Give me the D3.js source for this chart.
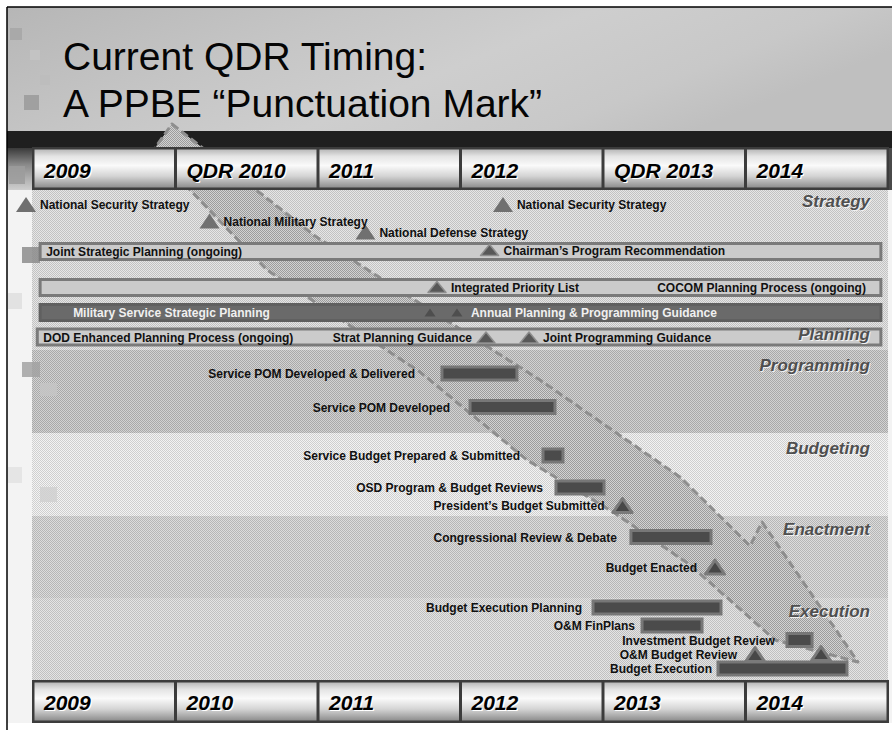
<!DOCTYPE html>
<html><head><meta charset="utf-8">
<script src="https://cdn.jsdelivr.net/npm/d3@7"></script>
<style>html,body{margin:0;padding:0;background:#fff;}svg{display:block;}</style>
</head><body>
<svg id="c" width="892" height="730"></svg>
<script>
// ---------------- DATA ----------------
const years = [2009, 2010, 2011, 2012, 2013, 2014];
const topYearLabels = ["2009", "QDR 2010", "2011", "2012", "QDR 2013", "2014"];
const bottomYearLabels = ["2009", "2010", "2011", "2012", "2013", "2014"];
const titleLines = ["Current QDR Timing:", "A PPBE \u201cPunctuation Mark\u201d"];

// background phase bands (y in chart rows)
const phaseBands = [
  { name: "Strategy & Planning", y0: 19.0, y1: 35.0, tone: "bgA" },
  { name: "Programming", y0: 35.0, y1: 43.3, tone: "bgB" },
  { name: "Budgeting", y0: 43.3, y1: 51.6, tone: "bgC" },
  { name: "Enactment", y0: 51.6, y1: 59.8, tone: "bgD" },
  { name: "Execution", y0: 59.8, y1: 68.1, tone: "bgE" }
];
const phaseLabels = ["Strategy", "Planning", "Programming", "Budgeting", "Enactment", "Execution"];
const phaseLabelRows = [20.7, 34.0, 37.1, 45.4, 53.5, 61.7];

// ongoing processes (full-width bars)
const ongoingBars = [
  { label: "Joint Strategic Planning (ongoing)", t0: 2009.05, t1: 2014.95, row: 25.15, tone: "light", side: "start" },
  { label: "COCOM Planning Process (ongoing)", t0: 2009.05, t1: 2014.95, row: 28.75, tone: "light", side: "end" },
  { label: "Military Service Strategic Planning", t0: 2009.05, t1: 2014.95, row: 31.25, tone: "dark", side: "start" },
  { label: "DOD Enhanced Planning Process (ongoing)", t0: 2009.03, t1: 2014.95, row: 33.7, tone: "light", side: "start" }
];

// milestones (triangles)
const milestones = [
  { label: "National Security Strategy", t: 2008.951, row: 20.45, kind: "plain", side: "right" },
  { label: "National Military Strategy", t: 2010.239, row: 22.1, kind: "plain", side: "right" },
  { label: "National Defense Strategy", t: 2011.333, row: 23.2, kind: "plain", side: "right" },
  { label: "National Security Strategy", t: 2012.298, row: 20.45, kind: "plain", side: "right" },
  { label: "Chairman\u2019s Program Recommendation", t: 2012.204, row: 25.0, kind: "inbar", side: "right" },
  { label: "Integrated Priority List", t: 2011.835, row: 28.7, kind: "inbar", side: "right" },
  { label: "", t: 2011.786, row: 31.25, kind: "small", side: "right" },
  { label: "Annual Planning & Programming Guidance", t: 2011.975, row: 31.25, kind: "small", side: "right" },
  { label: "Strat Planning Guidance", t: 2012.179, row: 33.75, kind: "inbar", side: "left" },
  { label: "Joint Programming Guidance", t: 2012.481, row: 33.75, kind: "inbar", side: "right" },
  { label: "President\u2019s Budget Submitted", t: 2013.137, row: 50.55, kind: "big", side: "left" },
  { label: "Budget Enacted", t: 2013.786, row: 56.7, kind: "big", side: "left" },
  { label: "O&M Budget Review", t: 2014.067, row: 65.45, kind: "big", side: "left" },
  { label: "", t: 2014.53, row: 65.35, kind: "big", side: "left" }
];

// activity bars
const activities = [
  { label: "Service POM Developed & Delivered", t0: 2011.870, t1: 2012.396, row: 37.35 },
  { label: "Service POM Developed", t0: 2012.067, t1: 2012.663, row: 40.7 },
  { label: "Service Budget Prepared & Submitted", t0: 2012.579, t1: 2012.719, row: 45.55 },
  { label: "OSD Program & Budget Reviews", t0: 2012.670, t1: 2013.007, row: 48.75 },
  { label: "Congressional Review & Debate", t0: 2013.196, t1: 2013.758, row: 53.7 },
  { label: "Budget Execution Planning", t0: 2012.930, t1: 2013.828, row: 60.75 },
  { label: "O&M FinPlans", t0: 2013.274, t1: 2013.695, row: 62.55 },
  { label: "Investment Budget Review", t0: 2014.291, t1: 2014.467, row: 64.0 },
  { label: "Budget Execution", t0: 2013.807, t1: 2014.712, row: 66.85 }
];
// gap (px) between each activity label and its bar
const activityLabelGap = [27, 20, 23, 13, 14, 11, 7, 12, 6];

// the big "punctuation" arrow outline [year, row]
const arrowOutline = [
  [2009.975, 12.4], [2010.979, 23.6], [2012.193, 34.7], [2012.558, 38.0],
  [2013.540, 47.7], [2014.032, 54.6], [2014.116, 52.2], [2014.789, 66.2],
  [2014.207, 64.0], [2013.611, 56.5], [2013.070, 51.2], [2012.467, 46.0],
  [2011.716, 37.2], [2011.449, 34.7], [2010.642, 27.0], [2010.102, 19.0],
  [2009.856, 14.8]
];

// ---------------- DRAW ----------------
const W = 892, H = 730;
const svg = d3.select("#c");
const x = d3.scaleLinear().domain([2009, 2015]).range([33, 888]);
const y = d3.scaleLinear().domain([0, 73]).range([0, 730]);
const FONT = "'Liberation Sans', Arial, Helvetica, sans-serif";

const defs = svg.append("defs");
function checker(id, c1, c2) {
  const p = defs.append("pattern").attr("id", id).attr("patternUnits", "userSpaceOnUse")
    .attr("width", 2).attr("height", 2);
  p.append("rect").attr("width", 2).attr("height", 2).attr("fill", c2);
  p.append("rect").attr("x", 0).attr("y", 0).attr("width", 1).attr("height", 1).attr("fill", c1);
  p.append("rect").attr("x", 1).attr("y", 1).attr("width", 1).attr("height", 1).attr("fill", c1);
}
checker("bgA", "#c2c2c2", "#e6e6e6");
checker("bgB", "#a9a9a9", "#d2d2d2");
checker("bgC", "#cfcfcf", "#f3f3f3");
checker("bgD", "#b6b6b6", "#dcdcdc");
checker("bgE", "#c0c0c0", "#e4e4e4");
checker("arrowPat", "#9c9c9c", "#d2d2d2");

const tg = defs.append("linearGradient").attr("id", "titleGrad").attr("x1", 0).attr("y1", 0).attr("x2", 1).attr("y2", 0.35);
[[0, "#b6b6b6"], [0.35, "#c5c5c5"], [0.6, "#cecece"], [0.85, "#c8c8c8"], [1, "#bfbfbf"]]
  .forEach(s => tg.append("stop").attr("offset", s[0]).attr("stop-color", s[1]));
const hg = defs.append("linearGradient").attr("id", "hdrGrad").attr("x1", 0).attr("y1", 0).attr("x2", 0).attr("y2", 1);
[[0, "#b9b9b9"], [0.18, "#e4e4e4"], [0.42, "#fafafa"], [0.7, "#d4d4d4"], [1, "#8e8e8e"]]
  .forEach(s => hg.append("stop").attr("offset", s[0]).attr("stop-color", s[1]));
const sg = defs.append("linearGradient").attr("id", "sideGrad").attr("x1", 0).attr("y1", 0).attr("x2", 0).attr("y2", 1);
[[0, "#3a3a3a"], [0.4, "#8a8a8a"], [1, "#cfcfcf"]]
  .forEach(s => sg.append("stop").attr("offset", s[0]).attr("stop-color", s[1]));

// page background
svg.append("rect").attr("width", W).attr("height", H).attr("fill", "#ffffff");
svg.append("rect").attr("x", 7).attr("y", 148).attr("width", W - 7).attr("height", 575).attr("fill", "#f3f3f3");
// title area
svg.append("rect").attr("x", 7).attr("y", 7).attr("width", W - 7).attr("height", 125).attr("fill", "url(#titleGrad)");
svg.append("rect").attr("x", 7).attr("y", 131).attr("width", W - 7).attr("height", 18).attr("fill", "#1f1f1f");
svg.append("rect").attr("x", 7).attr("y", 148).attr("width", 26).attr("height", 42).attr("fill", "url(#sideGrad)");
svg.append("rect").attr("x", 886).attr("y", 148).attr("width", 6).attr("height", 42).attr("fill", "#4a4a4a");

// decorative template squares
const decor = [[10, 28, 12, 12, "#a6a6a6"], [30, 50, 10, 10, "#c4c4c4"], [40, 75, 10, 10, "#bcbcbc"],
  [24, 95, 15, 15, "#9a9a9a"], [9, 166, 16, 18, "#9c9c9c"], [22, 247, 18, 16, "#8c8c8c"],
  [8, 293, 14, 16, "#dedede"], [22, 362, 18, 15, "#a2a2a2"], [40, 383, 17, 13, "#c6c6c6"],
  [8, 467, 14, 16, "#e2e2e2"], [40, 487, 17, 15, "#d0d0d0"]];

// phase backgrounds
svg.append("g").selectAll("rect").data(phaseBands).join("rect")
  .attr("x", x(2009) - 1).attr("width", x(2015) - x(2009) + 1)
  .attr("y", d => y(d.y0)).attr("height", d => y(d.y1) - y(d.y0))
  .attr("fill", d => `url(#${d.tone})`);

svg.append("g").selectAll("rect").data(decor).join("rect")
  .attr("x", d => d[0]).attr("y", d => d[1]).attr("width", d => d[2]).attr("height", d => d[3])
  .attr("fill", d => d[4]).attr("opacity", 0.85);

// title
svg.append("g").selectAll("text").data(titleLines).join("text")
  .attr("x", 63).attr("y", (d, i) => 70 + i * 47)
  .attr("font-family", FONT).attr("font-size", 39).attr("fill", "#050505").text(d => d);

// arrow
const line = d3.line().x(d => x(d[0])).y(d => y(d[1])).curve(d3.curveLinearClosed);
svg.append("path").attr("d", line(arrowOutline))
  .attr("fill", "url(#arrowPat)").attr("stroke", "#8e8e8e").attr("stroke-width", 3)
  .attr("stroke-dasharray", "8 4").attr("stroke-linejoin", "round");

// year header rows
function yearRow(y0, h, labels, base) {
  const g = svg.append("g");
  g.append("rect").attr("x", x(2009) - 1).attr("y", y0 - 1).attr("width", x(2015) - x(2009) + 2).attr("height", h + 2)
    .attr("fill", "#3c3c3c");
  g.selectAll("rect.cell").data(years).join("rect").attr("class", "cell")
    .attr("x", d => x(d) + 1.5).attr("y", y0 + 1.5)
    .attr("width", d => x(d + 1) - x(d) - 3).attr("height", h - 3)
    .attr("fill", "url(#hdrGrad)");
  g.selectAll("text.sh").data(labels).join("text").attr("class", "sh")
    .attr("x", (d, i) => x(years[i]) + 11 + 1.3).attr("y", base + 1.3)
    .attr("font-family", FONT).attr("font-size", 21).attr("font-weight", "bold").attr("font-style", "italic")
    .attr("fill", "#ffffff").text(d => d);
  g.selectAll("text.lb").data(labels).join("text").attr("class", "lb")
    .attr("x", (d, i) => x(years[i]) + 11).attr("y", base)
    .attr("font-family", FONT).attr("font-size", 21).attr("font-weight", "bold").attr("font-style", "italic")
    .attr("fill", "#000").text(d => d);
}
yearRow(148, 41, topYearLabels, 178);
yearRow(681, 41, bottomYearLabels, 710);

// ongoing bars
const BAR_H = 16;
const og = svg.append("g");
og.selectAll("rect").data(ongoingBars).join("rect")
  .attr("x", d => x(d.t0)).attr("width", d => x(d.t1) - x(d.t0))
  .attr("y", d => y(d.row) - BAR_H / 2).attr("height", BAR_H)
  .attr("fill", d => d.tone === "dark" ? "#6a6a6a" : "#cbcbcb")
  .attr("stroke", d => d.tone === "dark" ? "#606060" : "#7a7a7a").attr("stroke-width", 3);
og.selectAll("text").data(ongoingBars).join("text")
  .attr("x", d => d.side === "end" ? x(d.t1) - 15 : x(d.t0) + (d.tone === "dark" ? 33 : 6))
  .attr("y", d => y(d.row) + 4.5)
  .attr("text-anchor", d => d.side === "end" ? "end" : "start")
  .attr("font-family", FONT).attr("font-size", 12).attr("font-weight", "bold")
  .attr("fill", d => d.tone === "dark" ? "#f0f0f0" : "#111").text(d => d.label);

// activity bars
const ag = svg.append("g");
ag.selectAll("rect").data(activities).join("rect")
  .attr("x", d => x(d.t0)).attr("width", d => x(d.t1) - x(d.t0))
  .attr("y", d => y(d.row) - 6.5).attr("height", 13)
  .attr("fill", "#4b4b4b").attr("stroke", "#777").attr("stroke-width", 3);
ag.selectAll("text").data(activities).join("text")
  .attr("x", (d, i) => x(d.t0) - activityLabelGap[i]).attr("y", d => y(d.row) + 4.5)
  .attr("text-anchor", "end")
  .attr("font-family", FONT).attr("font-size", 12).attr("font-weight", "bold")
  .attr("fill", "#111").text(d => d.label);

// milestones
const triSize = { plain: [20, 15], inbar: [18, 11], small: [11, 8], big: [19, 14] };
const triFill = { plain: "#707070", inbar: "#585858", small: "#4e4e4e", big: "#474747" };
const triStroke = { plain: "none", inbar: "#8e8e8e", small: "none", big: "#7a7a7a" };
const triStrokeW = { plain: 0, inbar: 1.5, small: 0, big: 3 };
const mg = svg.append("g");
mg.selectAll("path").data(milestones).join("path")
  .attr("d", d => {
    const [w, h] = triSize[d.kind]; const cx = x(d.t), cy = y(d.row);
    return `M${cx},${cy - h / 2}L${cx + w / 2},${cy + h / 2}L${cx - w / 2},${cy + h / 2}Z`;
  })
  .attr("fill", d => triFill[d.kind]).attr("stroke", d => triStroke[d.kind])
  .attr("stroke-width", d => triStrokeW[d.kind]).attr("stroke-linejoin", "round");
mg.selectAll("text").data(milestones.filter(d => d.label)).join("text")
  .attr("x", d => d.side === "right" ? x(d.t) + 14 : x(d.t) - (d.kind === "big" ? 18 : 14))
  .attr("y", d => y(d.row) + 4.5)
  .attr("text-anchor", d => d.side === "right" ? "start" : "end")
  .attr("font-family", FONT).attr("font-size", 12).attr("font-weight", "bold")
  .attr("fill", d => d.kind === "small" ? "#f0f0f0" : "#111").text(d => d.label);

// phase labels
const pg = svg.append("g");
pg.selectAll("text.sh").data(phaseLabels).join("text").attr("class", "sh")
  .attr("x", 870 + 1).attr("y", (d, i) => y(phaseLabelRows[i]) + 1).attr("text-anchor", "end")
  .attr("font-family", FONT).attr("font-size", 17).attr("font-weight", "bold").attr("font-style", "italic")
  .attr("fill", "#f2f2f2").text(d => d);
pg.selectAll("text.lb").data(phaseLabels).join("text").attr("class", "lb")
  .attr("x", 870).attr("y", (d, i) => y(phaseLabelRows[i])).attr("text-anchor", "end")
  .attr("font-family", FONT).attr("font-size", 17).attr("font-weight", "bold").attr("font-style", "italic")
  .attr("fill", "#4f4f4f").text(d => d);

// frame lines
svg.append("line").attr("x1", 7).attr("x2", 7).attr("y1", 7).attr("y2", H).attr("stroke", "#000").attr("stroke-width", 1.5);
svg.append("line").attr("x1", 7).attr("x2", W).attr("y1", 7).attr("y2", 7).attr("stroke", "#000").attr("stroke-width", 1.5);
</script>
</body></html>
